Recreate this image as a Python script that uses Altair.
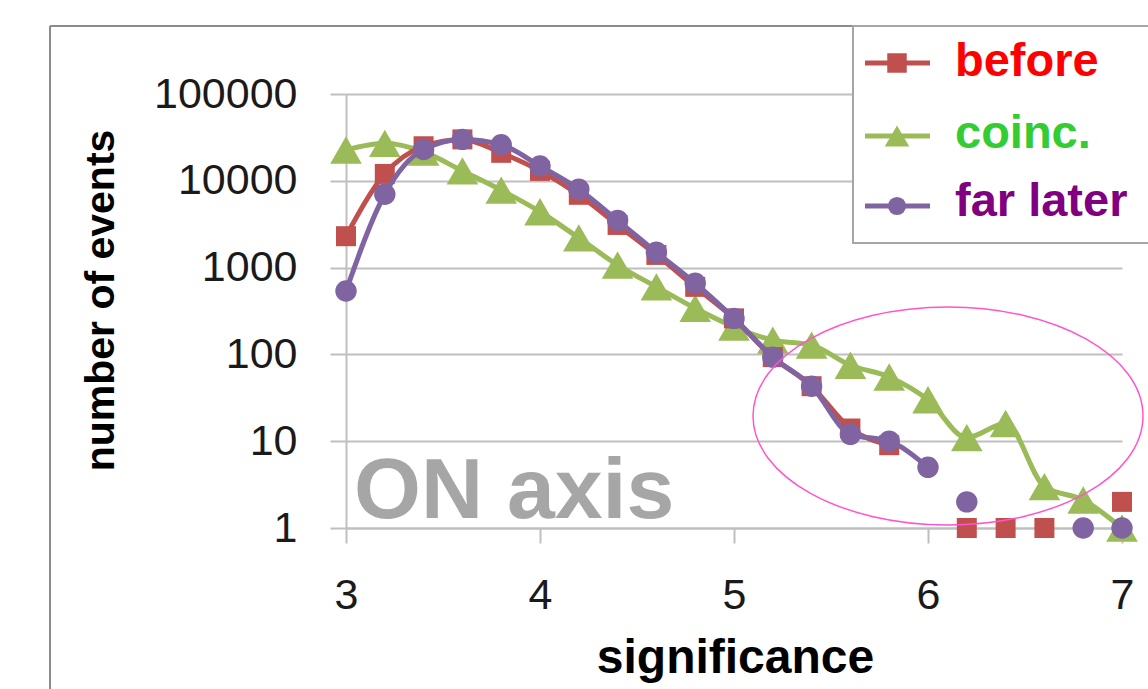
import altair as alt
import pandas as pd

# ---------------- data ----------------
significance = [3.0, 3.2, 3.4, 3.6, 3.8, 4.0, 4.2, 4.4, 4.6, 4.8, 5.0,
                5.2, 5.4, 5.6, 5.8, 6.0, 6.2, 6.4, 6.6, 6.8, 7.0]
before = [2300, 12000, 25000, 30000, 21000, 13000, 6900, 3100, 1400, 600, 260,
          93, 43, 14, 9, None, 1, 1, 1, None, 2]
coinc = [22600, 27000, 21500, 13000, 7800, 4400, 2200, 1070, 600, 340, 207,
         146, 128, 75, 55, 30, 11, 16, 3, 2.1, 1]
far_later = [537, 7000, 23000, 30000, 26000, 14800, 8000, 3500, 1500, 660, 260,
             93, 43, 12, 10, 5, 2, None, None, 1, 1]

series_names = ["before", "coinc.", "far later"]
series_values = [before, coinc, far_later]
line_last = [5.8, 7.0, 6.0]          # last point joined by the line
y_ticks = [1, 10, 100, 1000, 10000, 100000]
x_ticks = [3, 4, 5, 6, 7]
annotation = "ON axis"
x_title = "significance"
y_title = "number of events"

# ---------------- styles ----------------
mark_colors = ["#C0504D", "#9BBB59", "#8064A2"]
label_colors = ["#FF0000", "#33CC33", "#800080"]
shapes = ["square", "triangle-up", "circle"]
marker_sizes = [400, 1000, 460]
draw_order = [1, 0, 2]
FONT = "Liberation Sans"
GRID = "#BFBFBF"

W, H = 776, 434
PAD_L, PAD_T = 346, 94

one = pd.DataFrame({"k": [0]})

x_enc = alt.X("significance:Q",
              scale=alt.Scale(domain=[3, 7], nice=False, zero=False),
              axis=alt.Axis(values=x_ticks, format="d", title=x_title,
                            titleFontSize=48, titleFont=FONT, titleFontWeight="bold",
                            titleX=389, titleY=144, titleBaseline="alphabetic",
                            titleAlign="center", titleColor="#000000",
                            labelFontSize=43, labelFont=FONT, labelColor="#1a1a1a",
                            labelPadding=31, tickSize=15, grid=False,
                            labelFlush=False, labelOverlap=False))
y_enc = alt.Y("events:Q",
              scale=alt.Scale(type="log", domain=[1, 100000], nice=False),
              axis=alt.Axis(values=y_ticks, format="d", title=y_title,
                            titleFontSize=41, titleFont=FONT, titleFontWeight="bold",
                            titleAngle=270, titleX=-233, titleY=206,
                            titleBaseline="alphabetic", titleAlign="center",
                            titleColor="#000000",
                            labelFontSize=43, labelFont=FONT, labelColor="#1a1a1a",
                            labelPadding=33, tickSize=16, grid=True,
                            labelFlush=False, labelOverlap=False))

layers = []

# outer frame (top and left edges)
layers.append(alt.Chart(one).mark_rule(color="#8C8C8C", strokeWidth=2).encode(
    x=alt.value(50 - PAD_L), x2=alt.value(1160 - PAD_L), y=alt.value(26 - PAD_T)))
layers.append(alt.Chart(one).mark_rule(color="#8C8C8C", strokeWidth=2).encode(
    x=alt.value(50 - PAD_L), y=alt.value(26 - PAD_T), y2=alt.value(700 - PAD_T)))

# annotation text
layers.append(alt.Chart(one).mark_text(
    text=annotation, align="left", baseline="alphabetic", fontSize=86,
    fontWeight="bold", font=FONT, color="#A6A6A6").encode(
    x=alt.value(354 - PAD_L), y=alt.value(518 - PAD_T)))

# series
for i in draw_order:
    rows = [{"significance": s, "events": v, "series": series_names[i],
             "connected": bool(s <= line_last[i] + 1e-9)}
            for s, v in zip(significance, series_values[i]) if v is not None]
    df = pd.DataFrame(rows)
    base = alt.Chart(df).encode(x=x_enc, y=y_enc)
    layers.append(base.transform_filter("datum.connected").mark_line(
        color=mark_colors[i], strokeWidth=5, interpolate="monotone"))
    layers.append(base.mark_point(
        shape=shapes[i], filled=True, size=marker_sizes[i], opacity=1,
        color=mark_colors[i]))

# highlight ellipse
ellipse_path = "M -1 0 A 1 0.559 0 1 1 1 0 A 1 0.559 0 1 1 -1 0 Z"
layers.append(alt.Chart(one).mark_point(
    shape=ellipse_path, filled=False, size=390 * 390, stroke="#FF55CC",
    strokeWidth=1.5, opacity=1).encode(
    x=alt.value(948 - PAD_L), y=alt.value(416 - PAD_T)))

# legend box
layers.append(alt.Chart(one).mark_rect(
    fill="white", stroke="#A6A6A6", strokeWidth=2).encode(
    x=alt.value(853 - PAD_L), x2=alt.value(1170 - PAD_L),
    y=alt.value(26 - PAD_T), y2=alt.value(243 - PAD_T)))

row_center = [63, 136, 206]
row_base = [76, 148, 216]
legend_sizes = [380, 600, 330]
for i, name in enumerate(series_names):
    layers.append(alt.Chart(one).mark_rule(
        color=mark_colors[i], strokeWidth=5).encode(
        x=alt.value(865 - PAD_L), x2=alt.value(930 - PAD_L),
        y=alt.value(row_center[i] - PAD_T)))
    layers.append(alt.Chart(one).mark_point(
        shape=shapes[i], filled=True, size=legend_sizes[i], opacity=1,
        color=mark_colors[i]).encode(
        x=alt.value(897 - PAD_L), y=alt.value(row_center[i] - PAD_T)))
    layers.append(alt.Chart(one).mark_text(
        text=name, align="left", baseline="alphabetic", fontSize=47,
        fontWeight="bold", font=FONT, color=label_colors[i]).encode(
        x=alt.value(955 - PAD_L), y=alt.value(row_base[i] - PAD_T)))

chart = alt.layer(*layers).properties(
    width=W, height=H,
    autosize=alt.AutoSizeParams(type="none"),
    padding={"left": PAD_L, "top": PAD_T, "right": 1148 - PAD_L - W,
             "bottom": 689 - PAD_T - H},
    background="white",
).configure_view(stroke=None).configure_axis(
    domainColor=GRID, domainWidth=2, gridColor=GRID, gridWidth=2,
    tickColor=GRID, tickWidth=2,
)

chart.save("out.html", embed_options={"renderer": "svg", "actions": False})
